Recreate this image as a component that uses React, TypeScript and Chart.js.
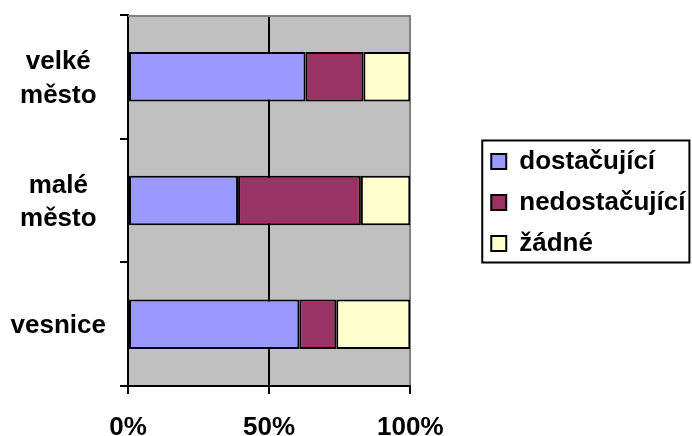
import React, { useEffect, useRef } from 'react';
import { Chart, registerables } from 'chart.js';

Chart.register(...registerables);

// Categories (top to bottom) – multi-line tick labels
const categories: string[][] = [['velké', 'město'], ['malé', 'město'], ['vesnice']];
const seriesNames = ['dostačující', 'nedostačující', 'žádné'];
// Share of answers in percent
const dostacujici = [62.9, 39.0, 60.7];
const nedostacujici = [20.5, 43.5, 13.1];
const zadne = [16.6, 17.5, 26.2];
const xTickValues = [0, 50, 100];

const FONT = "'Liberation Sans', Arial, sans-serif";
const W = 692;
const H = 436;

const plotFrame = {
  id: 'plotFrame',
  beforeDraw(chart: any) {
    const { ctx, chartArea: a } = chart;
    ctx.save();
    ctx.fillStyle = '#C0C0C0';
    ctx.fillRect(a.left, a.top, a.right - a.left, a.bottom - a.top);
    ctx.restore();
  },
  beforeDatasetsDraw(chart: any) {
    const { ctx, chartArea: a } = chart;
    ctx.save();
    ctx.strokeStyle = '#808080';
    ctx.lineWidth = 2;
    ctx.beginPath();
    ctx.moveTo(a.left, a.top + 1);
    ctx.lineTo(a.right, a.top + 1);
    ctx.stroke();
    ctx.restore();
  },
  afterLayout(chart: any) {
    // move the legend away from the plot and let it use the rest of the width
    const lg = chart.legend;
    if (!lg) return;
    lg.left = chart.chartArea.right + 66;
    lg.right = chart.width;
    lg.width = lg.right - lg.left;
    lg.top += 2;
    lg.bottom += 2;
  },
  afterDraw(chart: any) {
    const lg = chart.legend;
    if (!lg || !lg.legendHitBoxes || !lg.legendHitBoxes.length) return;
    const hb = lg.legendHitBoxes;
    const left = hb[0].left - 9;
    const top = hb[0].top - 8;
    const last = hb[hb.length - 1];
    const bottom = last.top + last.height + 6;
    const right = Math.max(...hb.map((b: any) => b.left + b.width)) + 4;
    const { ctx } = chart;
    ctx.save();
    ctx.strokeStyle = '#000';
    ctx.lineWidth = 2;
    ctx.strokeRect(left, top, right - left, bottom - top);
    ctx.restore();
  },
};

export default function App() {
  const ref = useRef<HTMLCanvasElement | null>(null);

  useEffect(() => {
    if (!ref.current) return;
    const barStyle = {
      borderColor: '#000',
      borderWidth: 2,
      borderSkipped: false as const,
      barPercentage: 0.4,
      categoryPercentage: 1,
    };
    const chart = new Chart(ref.current, {
      type: 'bar',
      data: {
        labels: categories,
        datasets: [
          { label: seriesNames[0], data: dostacujici, backgroundColor: '#9999FF', ...barStyle },
          { label: seriesNames[1], data: nedostacujici, backgroundColor: '#993366', ...barStyle },
          { label: seriesNames[2], data: zadne, backgroundColor: '#FFFFCC', ...barStyle },
        ],
      },
      options: {
        indexAxis: 'y',
        responsive: false,
        animation: false,
        events: [],
        layout: { padding: { top: 15, left: 0, right: 145, bottom: 0 } },
        plugins: {
          tooltip: { enabled: false },
          legend: {
            position: 'right',
            fullSize: false,
            align: 'center',
            labels: {
              boxWidth: 15,
              boxHeight: 15,
              padding: 15,
              color: '#000',
              font: { family: FONT, size: 26, weight: 'bold' },
              generateLabels: (c: any) =>
                Chart.defaults.plugins.legend.labels
                  .generateLabels(c)
                  .map((l: any) => ({ ...l, lineWidth: 2, strokeStyle: '#000' })),
            },
          },
        },
        scales: {
          x: {
            stacked: true,
            min: 0,
            max: 100,
            afterBuildTicks: (s: any) => {
              s.ticks = xTickValues.map((v) => ({ value: v }));
            },
            afterFit: (s: any) => {
              s.height = 50;
            },
            border: { color: '#000', width: 2 },
            grid: {
              color: (c: any) => (c.tick && c.tick.value === 100 ? '#808080' : '#000'),
              lineWidth: 2,
              drawTicks: true,
              tickLength: 8,
              tickColor: '#000',
              tickWidth: 2,
            },
            ticks: {
              color: '#000',
              padding: 18,
              maxRotation: 0,
              font: { family: FONT, size: 26, weight: 'bold' },
              callback: (v: any) => v + '%',
            },
          },
          y: {
            stacked: true,
            afterFit: (s: any) => {
              s.width = 128;
              s.paddingTop = 0;
              s.paddingBottom = 0;
            },
            border: { color: '#000', width: 2 },
            grid: {
              offset: true,
              drawOnChartArea: false,
              drawTicks: true,
              tickLength: 8,
              color: '#000',
              lineWidth: 2,
            },
            ticks: {
              color: '#000',
              padding: 14,
              labelOffset: 2,
              crossAlign: 'center',
              font: { family: FONT, size: 26, weight: 'bold', lineHeight: 1.28 },
            },
          },
        },
      },
      plugins: [plotFrame],
    } as any);
    return () => chart.destroy();
  }, []);

  return (
    <div style={{ position: 'fixed', left: 0, top: 0, width: W, height: H, background: '#fff' }}>
      <canvas ref={ref} width={W} height={H} style={{ display: 'block', width: W, height: H }} />
    </div>
  );
}
